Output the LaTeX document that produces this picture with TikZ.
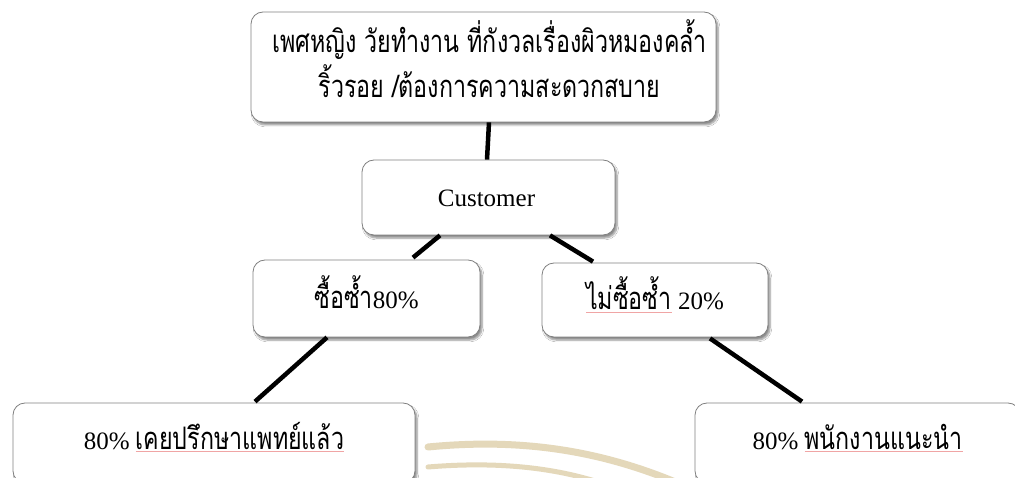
\documentclass[tikz,border=0pt]{standalone}
\usepackage{fontspec}
\setmainfont{Liberation Serif}
\newfontfamily\thai[Script=Thai, FakeStretch=0.75]{Loma}
\usetikzlibrary{shadows.blur,calc}
\definecolor{spellred}{RGB}{240,165,165}
\newcommand{\bsl}[2]{\raisebox{#1}[0pt][0pt]{#2}}
\newcommand{\thtxt}[1]{{\thai\fontsize{31}{45}\selectfont #1}}
\newcommand{\spl}[1]{\setbox0\hbox{#1}\rlap{\textcolor{spellred}{\rule[-3pt]{\wd0}{0.7pt}}}\box0\relax}
\begin{document}
\begin{tikzpicture}[x=1pt,y=-1pt,
  box/.style={draw=black!50, line width=0.8pt, rounded corners=12pt, fill=white,
    blur shadow={shadow xshift=2pt, shadow yshift=-3pt, shadow blur steps=6, shadow opacity=45},
    inner sep=0pt, font=\fontsize{25}{30}\selectfont},
  link/.style={line width=4.5pt, black},
  swoosh/.style={line width=7pt, color={rgb,255:red,228;green,216;blue,186}, line cap=round}]
\useasboundingbox (0,0) rectangle (1015,478);
\clip (0,0) rectangle (1015,478);
\fill[white] (0,0) rectangle (1015,478);
% background swooshes
\draw[swoosh] (428,447) .. controls (520,438) and (600,450) .. (680,484);
\draw[swoosh, line width=5pt] (428,467) .. controls (500,461) and (560,468) .. (610,486);
% nodes
\node[box, minimum width=465, minimum height=110, align=center,
  font=\thai\fontsize{31}{45}\selectfont] (top) at (483.5,67)
  {\hspace*{12pt}\bsl{-8.5pt}{เพศหญิง วัยทำงาน ที่กังวลเรื่องผิวหมองคล้ำ}\\
   \hspace*{12pt}\bsl{-8.5pt}{ริ้วรอย /ต้องการความสะดวกสบาย}};
\node[box, minimum width=253, minimum height=75] (cust) at (488.5,197.5)
  {\hspace*{-4pt}\bsl{-9.5pt}{Customer}};
\node[box, minimum width=227, minimum height=77] (left) at (366.5,298.5)
  {\bsl{-9.5pt}{\thtxt{ซื้อซ้ำ}80\%}};
\node[box, minimum width=226, minimum height=74] (right) at (655,300)
  {\bsl{-10pt}{\spl{\thtxt{ไม่ซื้อซ้ำ}} 20\%}};
\node[box, minimum width=402, minimum height=80] (bl) at (214,443)
  {\bsl{-6pt}{80\% \spl{\thtxt{เคยปรึกษาแพทย์แล้ว}}}};
\node[box, minimum width=325, minimum height=80] (br) at (857.5,443)
  {\bsl{-6pt}{80\% \spl{\thtxt{พนักงานแนะนำ}}}};
% connectors
\draw[link] ([xshift=5.5pt]top.south) -- ([xshift=-1.5pt]cust.north);
\draw[link] ([xshift=-48.5pt]cust.south) -- ([xshift=46.5pt,yshift=2pt]left.north);
\draw[link] ([xshift=61.5pt]cust.south) -- ([xshift=-62pt,yshift=1pt]right.north);
\draw[link] ([xshift=-39.5pt]left.south) -- ([xshift=41pt,yshift=1pt]bl.north);
\draw[link] ([xshift=55pt,yshift=-1pt]right.south) -- ([xshift=-55.5pt,yshift=1pt]br.north);
\end{tikzpicture}
\end{document}
